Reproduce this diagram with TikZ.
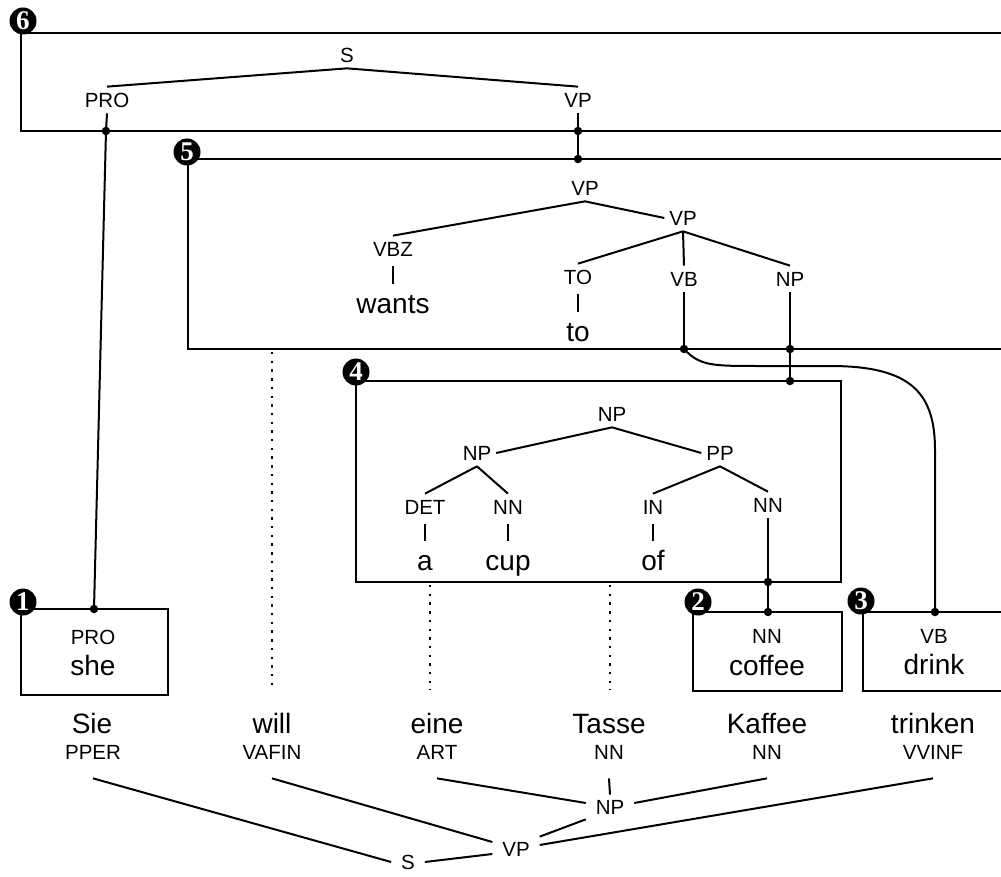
\documentclass[tikz,border=0pt]{standalone}
\usepackage{fontspec}
\setmainfont{Liberation Sans}
\newfontfamily\markerfont{Liberation Serif}
\begin{document}
\begin{tikzpicture}[x=1pt,y=-1pt,
  every node/.style={inner sep=0pt, outer sep=0pt},
  tag/.style={font=\fontsize{20.5}{22}\selectfont, text height=14.7pt, text depth=0pt, inner xsep=5pt, inner ysep=6pt},
  btag/.style={tag, inner ysep=19pt},
  phrase/.style={tag, inner xsep=10pt, inner ysep=5pt},
  word/.style={font=\fontsize{28}{30}\selectfont, text height=20pt, text depth=6pt, inner ysep=5pt, anchor=base},
  edge/.style={line width=2pt},
  frame/.style={draw, line width=2pt, anchor=north west},
  bar/.style={line width=1.8pt, shorten <=4pt, shorten >=4pt},
  link/.style={line width=2pt},
  dotlink/.style={line width=2.4pt, dash pattern=on 2.4pt off 6.3pt},
  joint/.style={circle, fill=black, minimum size=8.5pt},
  marker/.style={circle, fill=black, minimum size=27pt, text=white,
    font={\markerfont\bfseries\fontsize{27}{27}\selectfont}},
]
\useasboundingbox (0,0) rectangle (1001,877);
\clip (0,0) rectangle (1001,877);

% ---- frames ----
\node[frame, minimum width=999pt, minimum height=98pt]  (box6) at (21,33)   {};
\node[frame, minimum width=832pt, minimum height=190pt] (box5) at (188,159) {};
\node[frame, minimum width=485pt, minimum height=201pt] (box4) at (356,381) {};
\node[frame, minimum width=147pt, minimum height=86pt]  (box1) at (21,609)  {};
\node[frame, minimum width=149pt, minimum height=79pt]  (box2) at (693,612) {};
\node[frame, minimum width=142pt, minimum height=79pt]  (box3) at (863,612) {};

% ---- frame 6: S -> PRO VP ----
\node[tag] (s6)   at (347,55)  {S};
\node[tag] (pro6) at (107,100) {PRO};
\node[tag] (vp6)  at (578,100) {VP};
\draw[edge] (s6.south) -- (pro6.north);
\draw[edge] (s6.south) -- (vp6.north);

% ---- frame 5: VP -> VBZ VP ----
\node[tag]  (vp5)  at (585,188) {VP};
\node[tag]  (vbz)  at (393,249) {VBZ};
\node[word] (wants) at (393,313) {wants};
\node[tag]  (vp5b) at (683,218) {VP};
\node[tag]  (toT)  at (578,277) {TO};
\node[word] (toW)  at (578,341) {to};
\node[tag]  (vb5)  at (684,279) {VB};
\node[tag]  (np5)  at (790,279) {NP};
\draw[edge] (vp5.south) -- (vbz.north);
\draw[edge] (vp5.south) -- (vp5b.west);
\draw[edge] (vp5b.south) -- (toT.north);
\draw[edge] (vp5b.south) -- (vb5.north);
\draw[edge] (vp5b.south) -- (np5.north);
\draw[bar] (vbz.south) -- (wants.north);
\draw[bar] (toT.south) -- (toW.north);

% ---- frame 4: NP -> NP PP ----
\node[tag] (np4)  at (612,414) {NP};
\node[tag] (np4l) at (477,453) {NP};
\node[tag] (pp4)  at (720,453) {PP};
\node[tag] (det4) at (425,507) {DET};
\node[tag] (nn4a) at (508,507) {NN};
\node[tag] (in4)  at (653,507) {IN};
\node[tag] (nn4b) at (768,505) {NN};
\node[word] (aW)   at (425,570) {a};
\node[word] (cupW) at (508,570) {cup};
\node[word] (ofW)  at (653,570) {of};
\draw[edge] (np4.south) -- (np4l.east);
\draw[edge] (np4.south) -- (pp4.west);
\draw[edge] (np4l.south) -- (det4.north);
\draw[edge] (np4l.south) -- (nn4a.north);
\draw[edge] (pp4.south) -- (in4.north);
\draw[edge] (pp4.south) -- (nn4b.north);
\draw[bar] (det4.south) -- (aW.north);
\draw[bar] (nn4a.south) -- (cupW.north);
\draw[bar] (in4.south) -- (ofW.north);

% ---- frames 1-3: single words ----
\node[tag]  (pro1)   at (93,637)  {PRO};
\node[word] (she)    at (93,675)  {she};
\node[tag]  (nn2)    at (767,636) {NN};
\node[word] (coffee) at (767,675) {coffee};
\node[tag]  (vb3)    at (934,636) {VB};
\node[word] (drink)  at (934,674) {drink};

% ---- German sentence and its tree ----
\node[word] (sie)     at (92,733)  {Sie};
\node[word] (will)    at (272,733) {will};
\node[word] (eine)    at (437,733) {eine};
\node[word] (tasse)   at (609,733) {Tasse};
\node[word] (kaffee)  at (767,733) {Kaffee};
\node[word] (trinken) at (933,733) {trinken};
\node[btag] (pper)  at (93,752)  {PPER};
\node[btag] (vafin) at (272,752) {VAFIN};
\node[btag] (art)   at (437,752) {ART};
\node[btag] (nnT)   at (609,752) {NN};
\node[btag] (nnK)   at (767,752) {NN};
\node[btag] (vvinf) at (933,752) {VVINF};
\node[phrase] (npB) at (610,807) {NP};
\node[phrase] (vpB) at (516,849) {VP};
\node[phrase] (sB)  at (408,862) {S};
\draw[edge] (pper.south) -- (sB.west);
\draw[edge] (sB.east) -- ([yshift=-5pt]vpB.west);
\draw[edge] (vafin.south) -- ([yshift=7pt]vpB.west);
\draw[edge] (art.south) -- ([yshift=4pt]npB.west);
\draw[edge] (nnT.south) -- (npB.north);
\draw[edge] (nnK.south) -- ([yshift=4pt]npB.east);
\draw[edge] (npB.south west) -- (vpB.north east);
\draw[edge] (vvinf.south) -- ([yshift=4pt]vpB.east);

% ---- unaligned words ----
\coordinate (u5)  at (272,352);
\coordinate (u4a) at (430,585);
\coordinate (u4b) at (610,585);
\draw[dotlink, shorten >=18pt] (u5)  -- (u5 |- will.north);
\draw[dotlink, shorten >=18pt] (u4a) -- (u4a |- eine.north);
\draw[dotlink, shorten >=18pt] (u4b) -- (u4b |- tasse.north);

% ---- joints between frames ----
\node[joint] (j6a) at (106,131) {};
\node[joint] (j1)  at (94,609)  {};
\node[joint] (j6b) at (578,131) {};
\node[joint] (j5a) at (578,159) {};
\node[joint] (j5b) at (790,349) {};
\node[joint] (j4a) at (790,381) {};
\node[joint] (j5c) at (684,349) {};
\node[joint] (j4b) at (768,582) {};
\node[joint] (j2)  at (768,612) {};
\node[joint] (j3)  at (935,612) {};
\draw[link] (pro6.south) -- (j6a.center) -- (j1.center);
\draw[link] (vp6.south) -- (j6b.center) -- (j5a.center);
\draw[link] (np5.south) -- (j5b.center) -- (j4a.center);
\draw[link] (nn4b.south) -- (j4b.center) -- (j2.center);
\draw[link] (vb5.south) -- (j5c.center);
\draw[link] (j5c.center) .. controls (700,366) and (712,366) .. (760,366)
  -- (830,366) .. controls (910,366) and (935,392) .. (935,450) -- (j3.center);

% ---- frame numbers ----
\node[marker] (m6) at (23,21)   {6};
\node[marker] (m5) at (187,152) {5};
\node[marker] (m4) at (356,372) {4};
\node[marker] (m1) at (23,602)  {1};
\node[marker] (m2) at (698,602) {2};
\node[marker] (m3) at (861,601) {3};
\end{tikzpicture}
\end{document}
